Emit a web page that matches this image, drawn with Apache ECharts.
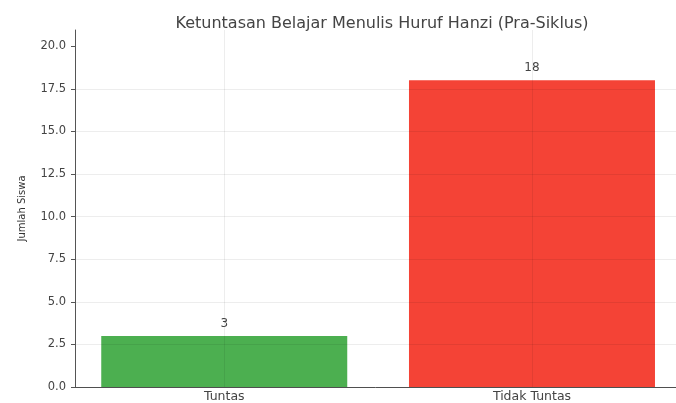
<!DOCTYPE html>
<html><head><meta charset="utf-8">
<script src="https://cdn.jsdelivr.net/npm/echarts@6/dist/echarts.min.js"></script>
<style>html,body{margin:0;padding:0;background:#fff;overflow:hidden}#c{width:676px;height:403px}</style>
</head><body><div id="c"></div>
<script>
const categories = ['Tuntas', 'Tidak Tuntas'];
const values = [3, 18];
const barColors = ['#4CAF50', '#F44336'];
const yTicks = [0, 2.5, 5, 7.5, 10, 12.5, 15, 17.5, 20];
const titleText = 'Ketuntasan Belajar Menulis Huruf Hanzi (Pra-Siklus)';
const yAxisName = 'Jumlah Siswa';

const catIdx = categories.map((c, i) => i);
const chart = echarts.init(document.getElementById('c'), null, {renderer: 'canvas'});
const font = 'DejaVu Sans';
chart.setOption({
  animation: false,
  backgroundColor: '#fff',
  title: {
    text: titleText, left: 377, top: 11, textAlign: 'center',
    textStyle: {fontFamily: font, fontSize: 16, fontWeight: 'normal', color: '#444'}
  },
  grid: {left: 75, right: 0, top: 30, bottom: 16},
  xAxis: {
    type: 'value', min: -0.485, max: 1.468,
    axisLine: {show: true, onZero: false, lineStyle: {color: '#555', width: 1}},
    axisTick: {show: false},
    axisLabel: {fontFamily: font, fontSize: 12.5, color: '#444', margin: 3,
      customValues: catIdx, formatter: v => categories[Math.round(v)]},
    splitLine: {show: false}
  },
  yAxis: {
    type: 'value', min: 0, max: 20.95, z: 3,
    name: yAxisName, nameLocation: 'middle', nameGap: 48,
    nameTextStyle: {fontFamily: font, fontSize: 10, color: '#333'},
    axisLine: {show: true, onZero: false, lineStyle: {color: '#555', width: 1}},
    axisTick: {show: true, length: 4, lineStyle: {color: '#555'}, customValues: yTicks},
    axisLabel: {fontFamily: font, fontSize: 11.5, color: '#444', margin: 9,
      customValues: yTicks, formatter: v => v.toFixed(1)},
    splitLine: {show: true, showMaxLine: false, lineStyle: {color: 'rgba(0,0,0,0.07)', width: 1}}
  },
  series: [{
    type: 'bar',
    data: values.map((v, i) => ({value: [i, v], itemStyle: {color: barColors[i]}})),
    barWidth: 246,
    label: {show: true, position: 'top', distance: 6, fontFamily: font, fontSize: 12, color: '#444',
      formatter: p => String(p.value[1])},
    markLine: {
      silent: true, symbol: 'none', label: {show: false},
      lineStyle: {color: 'rgba(0,0,0,0.07)', type: 'solid', width: 1},
      data: catIdx.map(i => ({xAxis: i}))
    }
  }]
});
</script></body></html>
